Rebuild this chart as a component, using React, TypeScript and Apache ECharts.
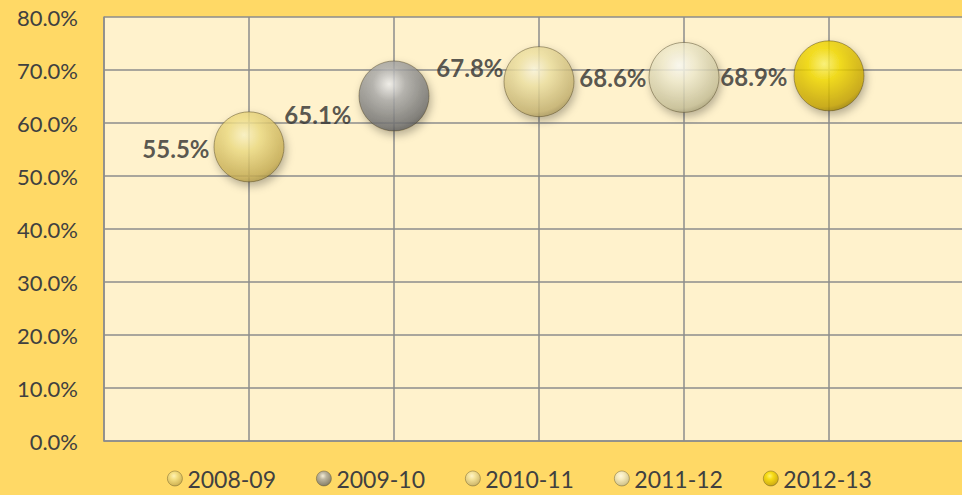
import React, { useEffect, useRef } from "react";
import * as echarts from "echarts";

const categories = ["2008-09", "2009-10", "2010-11", "2011-12", "2012-13"];
const values = [55.5, 65.1, 67.8, 68.6, 68.9];
const yTicks = { min: 0, max: 80, interval: 10 };

const sphereColors = [
  ["#FFF8C8", "#F2E088", "#C9AF55", "#8C7A34"],
  ["#F4F4F4", "#ADADAD", "#717171", "#3E3E3E"],
  ["#FFFBE2", "#F2E5A6", "#C7B472", "#837442"],
  ["#FFFFFA", "#F4EFD2", "#C9C29A", "#847D58"],
  ["#FFF870", "#F5DC00", "#C7A500", "#6E5A00"],
];
const labelOffsets = [
  [0, 2],
  [-3, 19],
  [4, -14],
  [2, 0],
  [-2, 1],
];

function sphere(c: string[]) {
  return {
    type: "radial",
    x: 0.43,
    y: 0.33,
    r: 0.78,
    colorStops: [
      { offset: 0, color: c[0] },
      { offset: 0.3, color: c[1] },
      { offset: 0.78, color: c[2] },
      { offset: 1, color: c[3] },
    ],
  };
}

export default function App() {
  const ref = useRef<HTMLDivElement>(null);
  useEffect(() => {
    document.body.style.margin = "0";
    const chart = echarts.init(ref.current!, null, { renderer: "svg" });
    const series = categories.map((name, i) => ({
      name,
      type: "scatter",
      symbol: "circle",
      symbolSize: 70,
      data: [[i + 1, values[i]]],
      itemStyle: {
        color: sphere(sphereColors[i]),
        borderColor: "rgba(70,60,30,0.55)",
        borderWidth: 1,
        shadowBlur: 8,
        shadowColor: "rgba(0,0,0,0.35)",
        shadowOffsetX: 2,
        shadowOffsetY: 4,
      },
      label: {
        show: true,
        position: "left",
        distance: 4,
        offset: labelOffsets[i],
        formatter: (p: any) => p.value[1].toFixed(1) + "%",
        color: "#2E2E2E",
        fontFamily: "Lato",
        fontWeight: "bold",
        fontSize: 24,
      },
      emphasis: { disabled: true },
    }));
    chart.setOption({
      animation: false,
      backgroundColor: "#FFD966",
      grid: {
        left: 104,
        top: 17,
        height: 424,
        width: 870,
        outerBoundsMode: "none",
        containLabel: false,
        show: true,
        backgroundColor: "#FFF2CC",
        borderWidth: 0,
      },
      legend: {
        data: categories,
        left: 162,
        top: 462,
        icon: "circle",
        itemWidth: 15,
        itemHeight: 15,
        itemGap: 40,
        itemStyle: { shadowBlur: 0, shadowOffsetX: 0, shadowOffsetY: 0, borderColor: "rgba(70,60,30,0.55)", borderWidth: 0.8 },
        textStyle: { color: "#404040", fontSize: 23, fontFamily: "Lato", padding: [0, 0, 0, 0] },
      },
      xAxis: {
        type: "value",
        min: 0,
        max: 6,
        interval: 1,
        axisLabel: { show: false },
        axisTick: { show: false },
        axisLine: { show: true, lineStyle: { color: "#8C8C8C", width: 1.5 } },
        splitLine: { show: true, lineStyle: { color: "#8C8C8C", width: 1.5 } },
      },
      yAxis: {
        type: "value",
        min: yTicks.min,
        max: yTicks.max,
        interval: yTicks.interval,
        axisLabel: {
          formatter: (v: number) => v.toFixed(1) + "%",
          color: "#404040",
          fontSize: 22,
          fontFamily: "Lato",
          margin: 26,
        },
        axisTick: { show: false },
        axisLine: { show: true, lineStyle: { color: "#8C8C8C", width: 1.5 } },
        splitLine: { show: true, lineStyle: { color: "#8C8C8C", width: 1.5 } },
      },
      series,
    });
    return () => chart.dispose();
  }, []);
  return (
    <div
      ref={ref}
      style={{ position: "fixed", left: 0, top: 0, width: 962, height: 495 }}
    />
  );
}
